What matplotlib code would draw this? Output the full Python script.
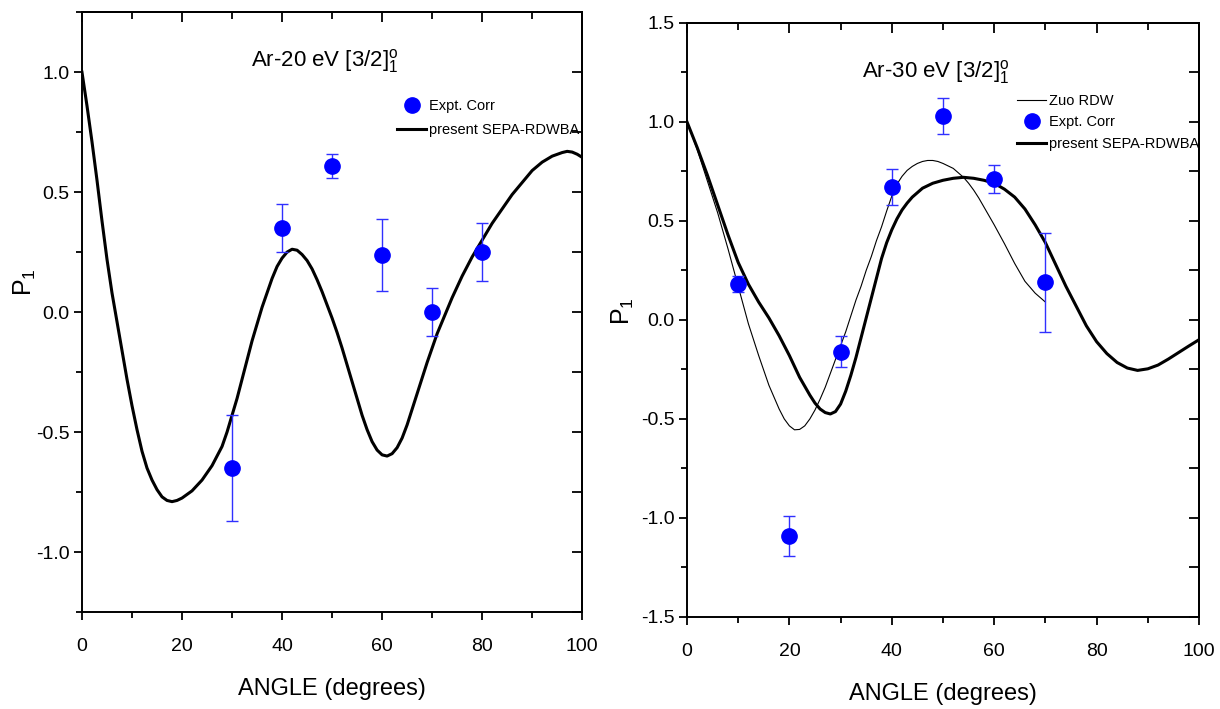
import numpy as np
import matplotlib
matplotlib.use("Agg")
import matplotlib.pyplot as plt
from matplotlib.lines import Line2D
from matplotlib.ticker import MultipleLocator

FAM = ["Liberation Sans Narrow", "Liberation Sans", "DejaVu Sans"]
plt.rcParams["font.family"] = FAM
plt.rcParams["mathtext.fontset"] = "custom"
plt.rcParams["mathtext.rm"] = "Liberation Sans"
plt.rcParams["mathtext.it"] = "Liberation Sans"

# ---- left panel: Ar 20 eV ----
ang20 = [0, 0.5, 1, 2, 3, 4, 5, 6, 7, 8, 9, 10, 11, 12, 13, 14, 15, 16, 17, 18, 19, 20,
         22, 24, 26, 28, 29, 30, 31, 32, 33, 34, 35, 36, 37, 38, 39, 40, 41, 42, 43,
         44, 45, 46, 47, 48, 49, 50, 51, 52, 53, 54, 55, 56, 57, 58, 59, 60, 61, 62,
         63, 64, 65, 66, 67, 68, 69, 70, 71, 72, 73, 74, 76, 78, 80, 82, 84, 86, 88,
         90, 92, 94, 96, 97, 98, 99, 100]
sepa20 = [1.00, 0.93, 0.86, 0.71, 0.55, 0.38, 0.22, 0.08, -0.04, -0.16, -0.28, -0.39, -0.49,
          -0.58, -0.65, -0.70, -0.74, -0.77, -0.785, -0.79, -0.785, -0.775,
          -0.745, -0.70, -0.64, -0.56, -0.50, -0.43, -0.36, -0.28, -0.20, -0.12, -0.05,
          0.02, 0.08, 0.14, 0.19, 0.225, 0.25, 0.262, 0.258,
          0.24, 0.215, 0.18, 0.135, 0.085, 0.03, -0.025, -0.085, -0.15, -0.22, -0.29, -0.36,
          -0.43, -0.49, -0.54, -0.575, -0.595, -0.60, -0.59,
          -0.565, -0.525, -0.47, -0.405, -0.34, -0.275, -0.21, -0.15, -0.09, -0.04, 0.01,
          0.06, 0.15, 0.23, 0.30, 0.37, 0.43, 0.49, 0.54,
          0.59, 0.625, 0.65, 0.665, 0.67, 0.667, 0.658, 0.645]
exp20_x = [30, 40, 50, 60, 70, 80]
exp20_y = [-0.65, 0.35, 0.61, 0.24, 0.00, 0.25]
exp20_err = [0.22, 0.10, 0.05, 0.15, 0.10, 0.12]

# ---- right panel: Ar 30 eV ----
ang30 = [0, 2, 4, 6, 8, 10, 12, 14, 16, 18, 20, 22, 24, 25, 26, 27, 28, 29, 30, 31, 32,
         33, 34, 35, 36, 37, 38, 39, 40, 41, 42, 43, 44, 46, 48, 50, 52, 54, 56, 58, 60,
         62, 64, 66, 68, 70, 72, 74, 76, 78, 80, 82, 84, 86, 88, 90, 92, 94, 96, 98, 100]
sepa30 = [1.00, 0.87, 0.73, 0.58, 0.43, 0.29, 0.18, 0.09, 0.01, -0.08, -0.18, -0.29,
          -0.38, -0.42, -0.45, -0.468, -0.475, -0.463, -0.425, -0.36, -0.28,
          -0.19, -0.09, 0.01, 0.11, 0.21, 0.31, 0.39, 0.455, 0.51, 0.555, 0.59, 0.62, 0.665,
          0.69, 0.705, 0.715, 0.72, 0.715, 0.705, 0.69,
          0.66, 0.62, 0.56, 0.48, 0.39, 0.28, 0.17, 0.07, -0.03, -0.11, -0.17, -0.215,
          -0.243, -0.255, -0.247, -0.228, -0.198, -0.165, -0.132, -0.10]
zuo_x = [0, 2, 4, 6, 8, 10, 12, 14, 16, 18, 19, 20, 21, 22, 23, 24, 25, 26, 27, 28, 29, 30,
         31, 32, 33, 34, 35, 36, 37, 38, 39, 40, 41, 42, 43, 44, 45, 46, 47, 48, 49, 50, 52,
         54, 55, 56, 57, 58, 60, 62, 64, 66, 68, 70]
zuo_y = [1.00, 0.86, 0.70, 0.54, 0.36, 0.17, -0.02, -0.18, -0.33, -0.45, -0.50, -0.535,
         -0.555, -0.553, -0.535, -0.50, -0.455, -0.40, -0.34, -0.27, -0.20, -0.13,
         -0.06, 0.02, 0.10, 0.17, 0.25, 0.32, 0.40, 0.47, 0.55, 0.625, 0.685, 0.725, 0.755,
         0.775, 0.79, 0.80, 0.805, 0.805, 0.80, 0.79, 0.765,
         0.72, 0.69, 0.655, 0.615, 0.57, 0.48, 0.385, 0.285, 0.195, 0.135, 0.09]
exp30_x = [10, 20, 30, 40, 50, 60, 70]
exp30_y = [0.18, -1.09, -0.16, 0.67, 1.03, 0.71, 0.19]
exp30_err = [0.04, 0.10, 0.08, 0.09, 0.09, 0.07, 0.25]

BLUE = "#0000ff"
fig = plt.figure(figsize=(12.2, 7.09), dpi=100)
axL = fig.add_axes([0.0672, 0.1368, 0.410, 0.846])
axR = fig.add_axes([0.5631, 0.1298, 0.4197, 0.838])


def style(ax, ylim):
    ax.set_xlim(0, 100)
    ax.set_ylim(*ylim)
    ax.xaxis.set_major_locator(MultipleLocator(20))
    ax.xaxis.set_minor_locator(MultipleLocator(10))
    ax.yaxis.set_major_locator(MultipleLocator(0.5))
    ax.yaxis.set_minor_locator(MultipleLocator(0.25))
    ax.tick_params(which="major", direction="out", length=6, width=1.3, labelsize=14)
    ax.tick_params(axis="x", which="major", pad=13)
    ax.tick_params(axis="y", which="major", pad=3)
    ax.tick_params(which="minor", direction="out", length=4, width=1.3)
    ax.yaxis.set_major_formatter(plt.FuncFormatter(lambda v, p: f"{v:.1f}"))
    for s in ax.spines.values():
        s.set_linewidth(1.4)
    top = ax.secondary_xaxis("top")
    top.xaxis.set_major_locator(MultipleLocator(20))
    top.xaxis.set_minor_locator(MultipleLocator(10))
    top.tick_params(which="major", direction="in", length=7, width=1.3, labeltop=False)
    top.tick_params(which="minor", direction="in", length=5, width=1.3)
    right = ax.secondary_yaxis("right")
    right.yaxis.set_major_locator(MultipleLocator(0.5))
    right.yaxis.set_minor_locator(MultipleLocator(0.25))
    right.tick_params(which="both", direction="in", length=7, width=1.3, labelright=False)
    for sec in (top, right):
        for s in sec.spines.values():
            s.set_linewidth(1.4)
    ax.set_xlabel("ANGLE (degrees)", fontsize=17, labelpad=16)
    ax.set_ylabel("P$_1$", fontsize=18)


# left
style(axL, (-1.25, 1.25))
axL.yaxis.set_label_coords(-0.088, 0.55)
axL.plot(ang20, sepa20, color="black", lw=2.2)
axL.errorbar(exp20_x, exp20_y, yerr=exp20_err, fmt="none", ecolor="#3030ff",
             elinewidth=1, capsize=4, capthick=1)
axL.plot(exp20_x, exp20_y, "o", color=BLUE, ms=11, zorder=4)
axL.text(48.6, 1.045, r"Ar-20 eV [3/2]$^{\mathrm{o}}_{1}$", fontsize=16,
         ha="center", va="center")
hL = [Line2D([], [], ls="none", marker="o", color=BLUE, ms=11),
      Line2D([], [], color="black", lw=2.2)]
axL.legend(hL, ["Expt. Corr", "present SEPA-RDWBA"], loc="upper left",
           bbox_to_anchor=(0.63, 0.855), frameon=False, fontsize=10.5,
           handlelength=2.0, handletextpad=0.2, labelspacing=0.65,
           borderpad=0, borderaxespad=0)

# right
style(axR, (-1.5, 1.5))
axR.yaxis.set_label_coords(-0.10, 0.515)
axR.plot(zuo_x, zuo_y, color="black", lw=0.8)
axR.plot(ang30, sepa30, color="black", lw=2.2)
axR.errorbar(exp30_x, exp30_y, yerr=exp30_err, fmt="none", ecolor="#3030ff",
             elinewidth=1, capsize=4, capthick=1)
axR.plot(exp30_x, exp30_y, "o", color=BLUE, ms=11, zorder=4)
axR.text(48.6, 1.25, r"Ar-30 eV [3/2]$^{\mathrm{o}}_{1}$", fontsize=16,
         ha="center", va="center")
hR = [Line2D([], [], color="black", lw=0.8),
      Line2D([], [], ls="none", marker="o", color=BLUE, ms=11),
      Line2D([], [], color="black", lw=2.2)]
axR.legend(hR, ["Zuo RDW", "Expt. Corr", "present SEPA-RDWBA"], loc="upper left",
           bbox_to_anchor=(0.645, 0.88), frameon=False, fontsize=10.5,
           handlelength=2.0, handletextpad=0.2, labelspacing=0.5,
           borderpad=0, borderaxespad=0)

fig.savefig("out.png", dpi=100)
